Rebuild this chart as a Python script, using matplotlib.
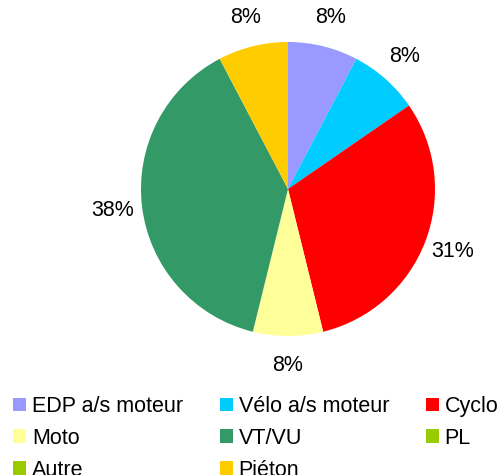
import matplotlib.pyplot as plt

plt.rcParams['font.family'] = ['Liberation Sans', 'DejaVu Sans']

# données : nombre d'accidents par catégorie
categories = ["EDP a/s moteur", "Vélo a/s moteur", "Cyclo", "Moto",
              "VT/VU", "PL", "Autre", "Piéton"]
counts = [1, 1, 4, 1, 5, 0, 0, 1]
colors = ["#9999ff", "#00ccff", "#ff0000", "#ffff99",
          "#339966", "#99cc00", "#99cc00", "#ffcc00"]

W, H = 501, 475
fig = plt.figure(figsize=(W / 100, H / 100), dpi=100)

cx, cy, r = 288, 189, 147
ax = fig.add_axes([(cx - r) / W, (H - cy - r) / H, 2 * r / W, 2 * r / H])


def fmt_pct(p):
    return "%d%%" % round(p) if p > 0 else ""


wedges, _, autotexts = ax.pie(counts, colors=colors, startangle=90,
                              counterclock=False, autopct=fmt_pct,
                              pctdistance=1.2, radius=1,
                              textprops=dict(fontsize=15.5, color="black"))
ax.set_xlim(-1, 1)
ax.set_ylim(-1, 1)
ax.set_aspect("equal")
ax.axis("off")

# légende en lignes (matplotlib remplit par colonnes -> réordonner)
order = [0, 3, 6, 1, 4, 7, 2, 5]
fig.legend([wedges[i] for i in order], [categories[i] for i in order],
           ncol=3, loc="upper left", bbox_to_anchor=(13 / W, 1 - 396 / H),
           frameon=False, fontsize=15.5, borderpad=0, borderaxespad=0,
           handlelength=0.6, handleheight=0.6, handletextpad=0.28,
           columnspacing=1.7, labelspacing=0.5)

fig.savefig("out.png", dpi=100)
